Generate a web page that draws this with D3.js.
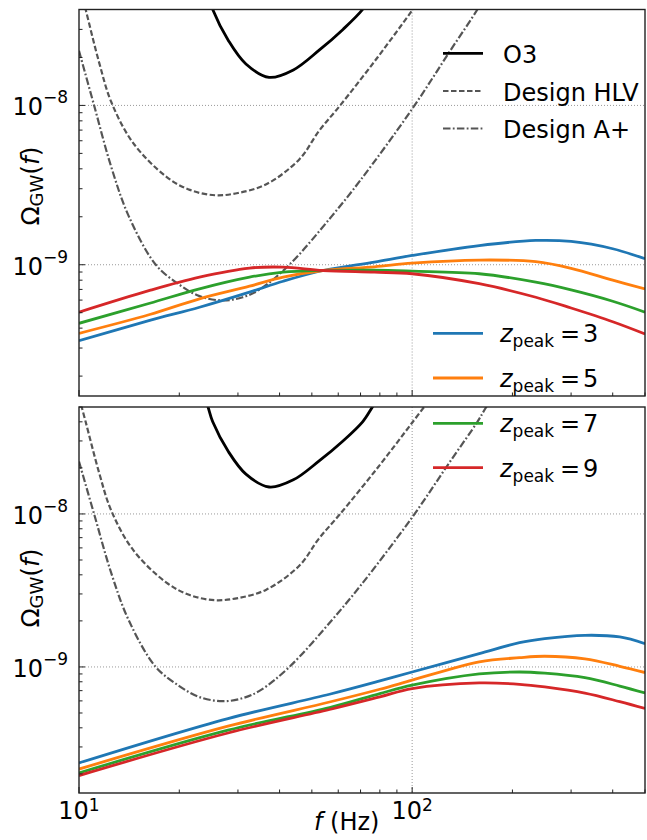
<!DOCTYPE html>
<html><head><meta charset="utf-8">
<script src="https://cdn.jsdelivr.net/npm/d3@7"></script>
<style>
body{margin:0;background:#fff;}
text{font-family:"DejaVu Sans",sans-serif;fill:#000;}
</style></head><body>
<svg id="chart" width="647" height="840"></svg>
<script>
// ---------------- data ----------------
const o3Freq   = [23.5, 24.4, 25.2, 28.1, 31.7, 37.2, 44, 52.7, 62, 71, 76, 80];
const o3Omega  = [6.5e-8, 5e-8, 4e-8, 2.55e-8, 1.82e-8, 1.5e-8, 1.67e-8, 2.23e-8, 3.0e-8, 4e-8, 5e-8, 5.9e-8];

const hlvFreq  = [10, 10.47, 11.5, 12.5, 14.55, 18.3, 21.5, 25.6, 30, 36.5, 45.9, 52.5, 60.8, 79, 99.6, 115];
const hlvOmega = [5.8e-8, 4e-8, 1.85e-8, 1.05e-8, 5.8e-9, 3.56e-9, 2.95e-9, 2.73e-9, 2.82e-9, 3.2e-9, 4.6e-9, 6.9e-9, 1e-8, 2.02e-8, 3.9e-8, 5.9e-8];

const apFreq   = [10, 11.1, 12.5, 14.1, 17, 20, 23, 27, 31, 35, 42.8, 57.4, 70, 100, 130, 157, 167, 180];
const apOmega  = [2.2e-8, 1e-8, 4.1e-9, 2.02e-9, 1e-9, 7.5e-10, 6.35e-10, 5.97e-10, 6.25e-10, 7.03e-10, 1e-9, 2.02e-9, 3.4e-9, 9.5e-9, 2.2e-8, 4e-8, 5e-8, 6.3e-8];

// top panel population curves
const topFreq = [10, 16.3, 23, 32.5, 41, 54, 77, 100, 159, 235, 300, 400, 500];
const topZ3 = [3.34e-10, 4.47e-10, 5.41e-10, 6.73e-10, 7.88e-10, 9.2e-10, 1.04e-9, 1.144e-9, 1.32e-9, 1.42e-9, 1.40e-9, 1.26e-9, 1.09e-9];
const topZ5 = [3.71e-10, 4.87e-10, 6.11e-10, 7.33e-10, 8.36e-10, 9.2e-10, 9.7e-10, 1.023e-9, 1.07e-9, 1.045e-9, 9.5e-10, 8.0e-10, 7.06e-10];
const topZ7 = [4.29e-10, 5.73e-10, 7.06e-10, 8.36e-10, 8.98e-10, 9.2e-10, 9.25e-10, 9.12e-10, 8.78e-10, 7.77e-10, 6.95e-10, 5.9e-10, 5.04e-10];
const topZ9 = [5.04e-10, 6.9e-10, 8.36e-10, 9.53e-10, 9.66e-10, 9.2e-10, 8.98e-10, 8.78e-10, 7.6e-10, 6.25e-10, 5.35e-10, 4.39e-10, 3.68e-10];

// bottom panel population curves
const botFreq = [10, 28, 56.5, 80, 100, 159, 210, 250, 330, 420, 500];
const botZ3 = [2.36e-10, 4.6e-10, 6.63e-10, 8.1e-10, 9.27e-10, 1.223e-9, 1.44e-9, 1.53e-9, 1.61e-9, 1.57e-9, 1.42e-9];
const botZ5 = [2.15e-10, 4.1e-10, 5.9e-10, 7.15e-10, 8.19e-10, 1.08e-9, 1.15e-9, 1.175e-9, 1.13e-9, 1.01e-9, 9.19e-10];
const botZ7 = [2.03e-10, 3.86e-10, 5.43e-10, 6.7e-10, 7.6e-10, 9.0e-10, 9.27e-10, 9.1e-10, 8.5e-10, 7.5e-10, 6.76e-10];
const botZ9 = [1.95e-10, 3.7e-10, 5.27e-10, 6.37e-10, 7.22e-10, 7.86e-10, 7.7e-10, 7.4e-10, 6.75e-10, 5.93e-10, 5.35e-10];

const zPeaks = ["3", "5", "7", "9"];
const zColors = ["#1f77b4", "#ff7f0e", "#2ca02c", "#d62728"];
const designLabels = ["O3", "Design HLV", "Design A+"];
const xTickExps = [1, 2];
const yTickExps = [-8, -9];

// ---------------- drawing ----------------
const svg = d3.select("#chart");
const xL = 79, xR = 645;
const x = d3.scaleLog().domain([10, 500]).range([xL, xR]);

const panels = [
  {top: 9.5, bottom: 396, dom: [1.5e-10, 4e-8], z: [topZ3, topZ5, topZ7, topZ9], f: topFreq, labelY: 186, xlabels: false},
  {top: 407, bottom: 793, dom: [1.5e-10, 5e-8], z: [botZ3, botZ5, botZ7, botZ9], f: botFreq, labelY: 588, xlabels: true}
];

const toPts = (fs, vs) => fs.map((f, i) => ({f, v: vs[i]}));
const gray = "#555";
const hlvDash = "5.5,2.5";
const apDash = "7.5,2.3,1.8,2.3";

panels.forEach((p, pi) => {
  const y = d3.scaleLog().domain(p.dom).range([p.bottom, p.top]);
  const g = svg.append("g");
  const clipId = "clip" + pi;
  svg.append("clipPath").attr("id", clipId).append("rect")
    .attr("x", xL).attr("y", p.top).attr("width", xR - xL).attr("height", p.bottom - p.top);

  // grid
  const grid = g.append("g").attr("stroke", "#999").attr("stroke-width", 1).attr("stroke-dasharray", "1,2");
  [1e-8, 1e-9].forEach(v => grid.append("line").attr("x1", xL).attr("x2", xR).attr("y1", y(v)).attr("y2", y(v)));
  [100].forEach(v => grid.append("line").attr("x1", x(v)).attr("x2", x(v)).attr("y1", p.top).attr("y2", p.bottom));

  const line = d3.line().x(d => x(d.f)).y(d => y(d.v)).curve(d3.curveCatmullRom.alpha(0.5));
  const cg = g.append("g").attr("clip-path", `url(#${clipId})`).attr("fill", "none").attr("stroke-linecap", "butt");

  cg.append("path").attr("d", line(toPts(hlvFreq, hlvOmega))).attr("stroke", gray).attr("stroke-width", 2.2).attr("stroke-dasharray", hlvDash);
  cg.append("path").attr("d", line(toPts(apFreq, apOmega))).attr("stroke", gray).attr("stroke-width", 2.2).attr("stroke-dasharray", apDash);
  cg.append("path").attr("d", line(toPts(o3Freq, o3Omega))).attr("stroke", "#000").attr("stroke-width", 2.8);

  p.z.forEach((vals, i) => {
    cg.append("path").attr("d", line(toPts(p.f, vals))).attr("stroke", zColors[i]).attr("stroke-width", 2.8);
  });

  // frame
  g.append("rect").attr("x", xL).attr("y", p.top).attr("width", xR - xL).attr("height", p.bottom - p.top)
    .attr("fill", "none").attr("stroke", "#222").attr("stroke-width", 1.4);

  // ticks (inward)
  const tg = g.append("g").attr("stroke", "#222").attr("stroke-width", 1);
  const xMinor = [];
  [10, 100].forEach(d => { for (let k = 2; k <= 9; k++) if (d * k <= 500) xMinor.push(d * k); });
  xMinor.forEach(v => tg.append("line").attr("x1", x(v)).attr("x2", x(v)).attr("y1", p.bottom).attr("y2", p.bottom - 3.5));
  [10, 100].forEach(v => tg.append("line").attr("x1", x(v)).attr("x2", x(v)).attr("y1", p.bottom).attr("y2", p.bottom - 6));
  const yMinor = [];
  [1e-10, 1e-9, 1e-8].forEach(d => { for (let k = 2; k <= 9; k++) { const v = d * k; if (v >= p.dom[0] && v <= p.dom[1]) yMinor.push(v); } });
  yMinor.forEach(v => tg.append("line").attr("x1", xL).attr("x2", xL + 3.5).attr("y1", y(v)).attr("y2", y(v)));
  [1e-9, 1e-8].forEach(v => tg.append("line").attr("x1", xL).attr("x2", xL + 6).attr("y1", y(v)).attr("y2", y(v)));

  // y tick labels
  yTickExps.forEach(e => {
    const t = g.append("text").attr("x", 68).attr("y", y(Math.pow(10, e)) + 10).attr("text-anchor", "end").attr("font-size", 24);
    t.append("tspan").text("10");
    t.append("tspan").attr("font-size", 17).attr("dy", -12).text("\u2212" + Math.abs(e));
  });

  // y label
  const yl = g.append("text").attr("transform", `translate(39,${p.labelY}) rotate(-90)`).attr("text-anchor", "middle").attr("font-size", 25);
  yl.append("tspan").text("\u03A9");
  yl.append("tspan").attr("font-size", 18).attr("dy", 4).text("GW");
  yl.append("tspan").attr("dy", -4).text("(");
  yl.append("tspan").attr("font-style", "italic").text("f");
  yl.append("tspan").text(")");

  if (p.xlabels) {
    xTickExps.forEach(e => {
      const t = svg.append("text").attr("x", x(Math.pow(10, e))).attr("y", 819).attr("text-anchor", "middle").attr("font-size", 24);
      t.append("tspan").text("10");
      t.append("tspan").attr("font-size", 17).attr("dy", -8).text(String(e));
    });
    const xl = svg.append("text").attr("x", 314).attr("y", 830).attr("font-size", 24);
    xl.append("tspan").attr("font-style", "italic").text("f");
    xl.append("tspan").text(" (Hz)");
  }
});

// design legend (top panel)
const legY = [53.3, 91, 128.5];
const legStyles = [
  {stroke: "#000", dash: null, w: 2.8},
  {stroke: gray, dash: hlvDash, w: 2.2},
  {stroke: gray, dash: apDash, w: 2.2}
];
designLabels.forEach((lab, i) => {
  const l = svg.append("line").attr("x1", 443).attr("x2", 483).attr("y1", legY[i]).attr("y2", legY[i])
    .attr("stroke", legStyles[i].stroke).attr("stroke-width", legStyles[i].w);
  if (legStyles[i].dash) l.attr("stroke-dasharray", legStyles[i].dash);
  svg.append("text").attr("x", 503).attr("y", legY[i] + 9.5).attr("font-size", 24).text(lab);
});

// z_peak legend (figure level)
const zLegY = [333.3, 378, 423.3, 467.7];
zPeaks.forEach((z, i) => {
  svg.append("line").attr("x1", 433).attr("x2", 483).attr("y1", zLegY[i]).attr("y2", zLegY[i])
    .attr("stroke", zColors[i]).attr("stroke-width", 2.8);
  const t = svg.append("text").attr("x", 500).attr("y", zLegY[i] + 9).attr("font-size", 24);
  t.append("tspan").attr("font-style", "italic").text("z");
  t.append("tspan").attr("font-size", 17).attr("dy", 5).text("peak");
  t.append("tspan").attr("x", 560).attr("dy", -5).text("=");
  t.append("tspan").attr("x", 583).text(z);
});
</script>
</body></html>
